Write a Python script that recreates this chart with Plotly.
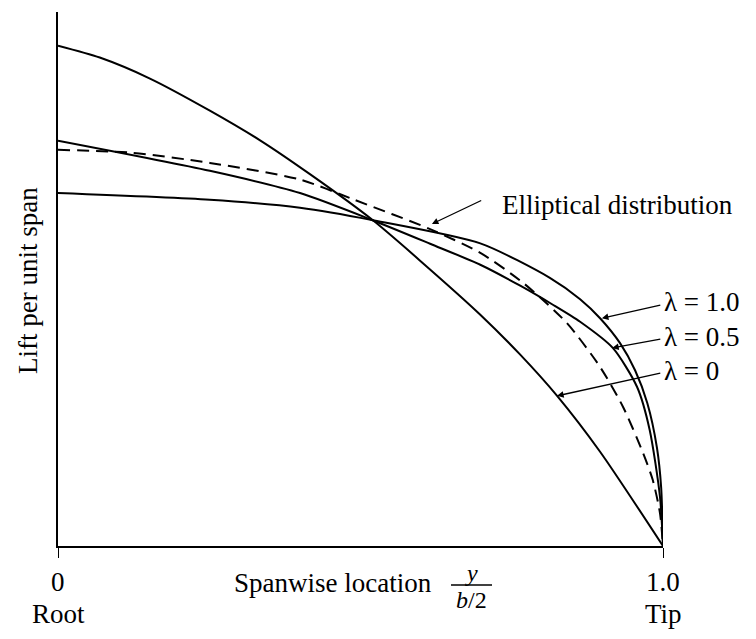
import plotly.graph_objects as go

# Spanwise location y/(b/2) and lift per unit span (normalised, elliptical root = 1)
x_l0 = [0.0, 0.069, 0.152, 0.251, 0.334, 0.417, 0.519, 0.598, 0.698, 0.764, 0.825, 0.896, 1.0]
y_l0 = [1.263, 1.233, 1.180, 1.099, 1.024, 0.938, 0.824, 0.721, 0.584, 0.483, 0.379, 0.238, 0.0]

x_l05 = [0.0, 0.251, 0.4, 0.519, 0.615, 0.698, 0.764, 0.818, 0.863, 0.917, 0.957, 0.978, 0.995, 1.0]
y_l05 = [1.023, 0.947, 0.891, 0.823, 0.763, 0.71, 0.657, 0.609, 0.566, 0.50, 0.402, 0.293, 0.124, 0.0]

x_l10 = [0.0, 0.251, 0.4, 0.519, 0.698, 0.813, 0.863, 0.896, 0.929, 0.954, 0.974, 0.990, 0.997, 1.0]
y_l10 = [0.891, 0.874, 0.854, 0.823, 0.764, 0.677, 0.623, 0.575, 0.512, 0.443, 0.361, 0.248, 0.147, 0.0]

x_ell = [0.0, 0.12, 0.251, 0.4, 0.488, 0.615, 0.698, 0.769, 0.841, 0.896, 0.934, 0.967, 0.983, 0.995, 1.0]
y_ell = [1.0, 0.993, 0.967, 0.925, 0.875, 0.80, 0.74, 0.664, 0.563, 0.452, 0.351, 0.235, 0.167, 0.083, 0.0]

tick_vals = [0, 1]
tick_top = ["0", "1.0"]
tick_bottom = ["Root", "Tip"]

SERIF = "Liberation Serif"
BLACK = "black"

fig = go.Figure()
for xs, ys, dash in [(x_l0, y_l0, "solid"), (x_l05, y_l05, "solid"),
                     (x_l10, y_l10, "solid"), (x_ell, y_ell, "12px,7px")]:
    fig.add_trace(go.Scatter(x=xs, y=ys, mode="lines",
                             line=dict(color=BLACK, width=2, dash=dash, shape="spline", smoothing=0.7),
                             hoverinfo="skip"))

fig.update_layout(
    width=756, height=639,
    margin=dict(l=50, r=101, t=4, b=101),
    paper_bgcolor="white", plot_bgcolor="white",
    showlegend=False,
    xaxis=dict(range=[0, 1], showline=True, linecolor=BLACK, linewidth=1.5,
               ticks="outside", ticklen=10, tickwidth=1.2, tickcolor=BLACK,
               tickvals=tick_vals, showticklabels=False, showgrid=False, zeroline=False),
    yaxis=dict(range=[0, 1.348], showline=True, linecolor=BLACK, linewidth=1.5,
               ticks="", showticklabels=False, showgrid=False, zeroline=False),
)

font = dict(family=SERIF, size=27, color=BLACK)
ann = []
for v, t1, t2 in zip(tick_vals, tick_top, tick_bottom):
    ann.append(dict(x=v, xref="x", y=0, yref="paper", yshift=-36, text=t1, showarrow=False,
                    xanchor="center", yanchor="middle", font=font))
    ann.append(dict(x=v, xref="x", y=0, yref="paper", yshift=-68, text=t2, showarrow=False,
                    xanchor="center", yanchor="middle", font=font))

ann.append(dict(x=0.2876, xref="paper", y=0, yref="paper", yshift=-37, text="Spanwise location",
                showarrow=False, xanchor="left", yanchor="middle", font=font))
ann.append(dict(x=0.684, xref="paper", y=0, yref="paper", yshift=-27, text="<i>y</i>",
                showarrow=False, xanchor="center", yanchor="middle", font=dict(family=SERIF, size=24, color=BLACK)))
ann.append(dict(x=0.684, xref="paper", y=0, yref="paper", yshift=-54, text="<i>b</i>/2",
                showarrow=False, xanchor="center", yanchor="middle", font=dict(family=SERIF, size=24, color=BLACK)))

ann.append(dict(x=-0.0496, xref="paper", y=0.498, yref="paper", text="Lift per unit span",
                textangle=-90, showarrow=False, xanchor="center", yanchor="middle", font=font))

ann.append(dict(x=0.7306, xref="paper", y=0.6386, yref="paper", text="Elliptical distribution",
                showarrow=False, xanchor="left", yanchor="middle", font=font))
for txt, yp in [("λ = 1.0", 0.457), ("λ = 0.5", 0.3914), ("λ = 0", 0.3277)]:
    ann.append(dict(x=0.998, xref="paper", y=yp, yref="paper", text=txt, showarrow=False,
                    xanchor="left", yanchor="middle", font=font))

# arrows: (head x, head y, tail x, tail y)
for hx, hy, tx, ty in [(0.618, 0.813, 0.702, 0.874),
                       (0.899, 0.575, 0.998, 0.609),
                       (0.916, 0.500, 0.998, 0.523),
                       (0.825, 0.379, 0.998, 0.437)]:
    ann.append(dict(x=hx, y=hy, xref="x", yref="y", ax=tx, ay=ty, axref="x", ayref="y",
                    text="", showarrow=True, arrowhead=2, arrowsize=1, arrowwidth=1.3,
                    arrowcolor=BLACK, standoff=0))

fig.update_layout(annotations=ann)
fig.add_shape(type="line", xref="paper", yref="paper", x0=0.6496, x1=0.7174, y0=-0.073, y1=-0.073,
              line=dict(color=BLACK, width=1.5))

fig.write_html("out.html")
